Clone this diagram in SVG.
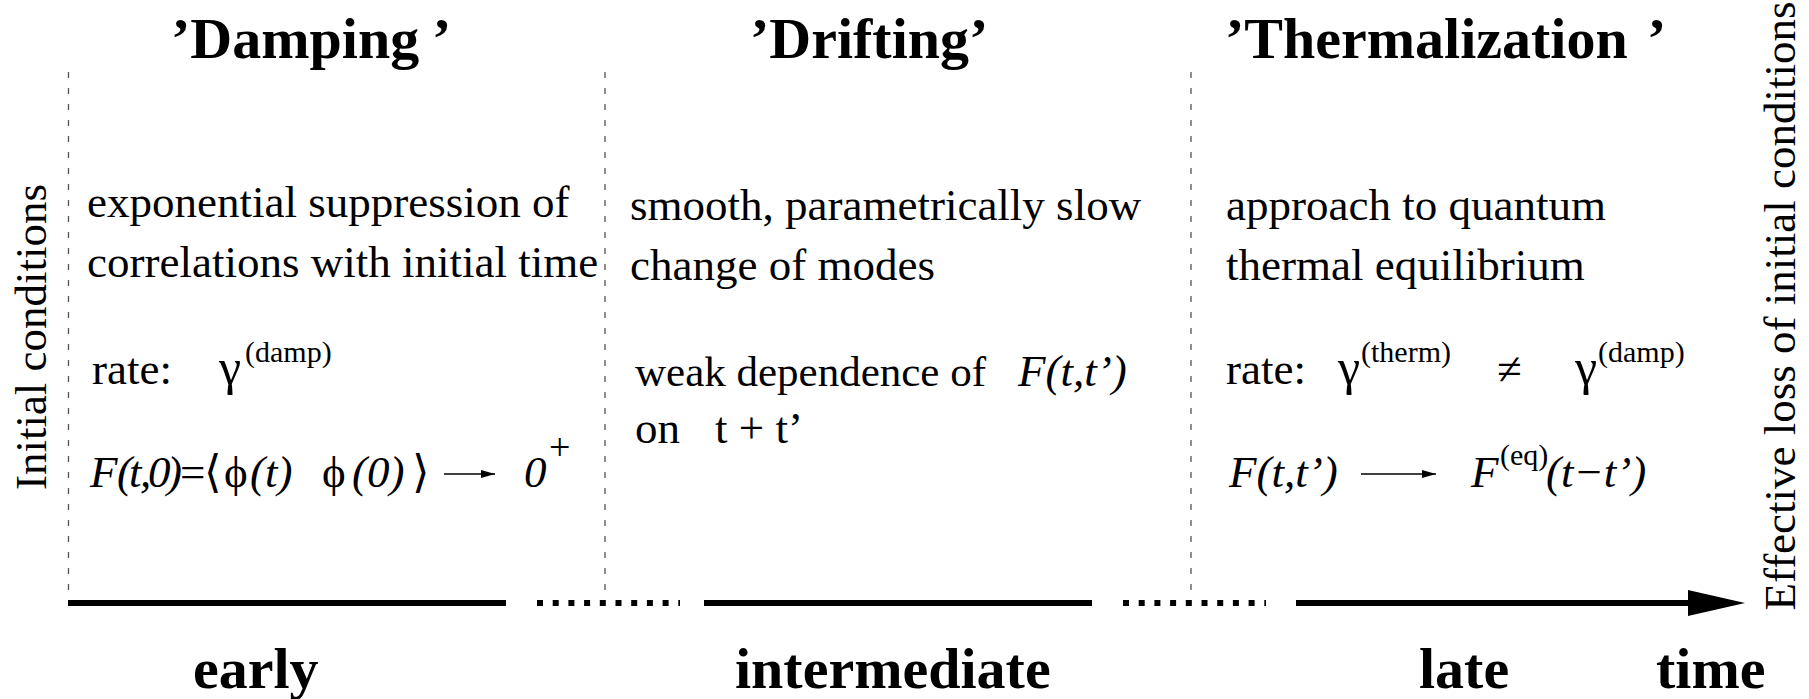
<svg xmlns="http://www.w3.org/2000/svg" width="1809" height="699" viewBox="0 0 1809 699">
<style>
.t{font-family:"Liberation Serif","DejaVu Serif",serif;font-size:45px;fill:#000}
.i{font-style:italic}
.b{font-weight:bold;font-size:58px}
.sup{font-size:30px}
.g{font-size:50px}
.dash{stroke:#555;stroke-width:1.3;stroke-dasharray:6 10;fill:none}
.axis{stroke:#000;stroke-width:6;fill:none}
.dot{stroke:#000;stroke-width:6;stroke-dasharray:6 9.7;fill:none}
.thin{stroke:#000;stroke-width:1.5;fill:none}
</style>
<defs>
<marker id="ah" viewBox="0 0 14 8" refX="14" refY="4" markerWidth="14" markerHeight="8" markerUnits="userSpaceOnUse" orient="auto">
<path d="M0,0 L14,4 L0,8 Z" fill="#000"/>
</marker>
</defs>
<rect width="1809" height="699" fill="#fff"/>

<g id="dividers">
<line class="dash" x1="68.5" y1="72" x2="68.5" y2="600"/>
<line class="dash" x1="605" y1="72" x2="605" y2="600"/>
<line class="dash" x1="1191" y1="72" x2="1191" y2="600"/>
</g>

<g id="connectors">
<line class="axis" x1="68" y1="603" x2="506" y2="603"/>
<line class="dot" x1="537" y1="603" x2="680" y2="603"/>
<line class="axis" x1="704" y1="603" x2="1092" y2="603"/>
<line class="dot" x1="1123" y1="603" x2="1266" y2="603"/>
<line class="axis" x1="1296" y1="603" x2="1692" y2="603"/>
<polygon points="1688,590 1745,603 1688,616" fill="#000"/>
</g>

<g id="side-labels">
<text class="t" transform="translate(46,337) rotate(-90)" text-anchor="middle">Initial conditions</text>
<text class="t" transform="translate(1795,306) rotate(-90)" text-anchor="middle">Effective loss of initial conditions</text>
</g>

<g id="damping">
<text class="t b" x="171" y="58">’Damping<tspan x="432">’</tspan></text>
<text class="t" x="87" y="217">exponential suppression of</text>
<text class="t" x="87" y="277">correlations with initial time</text>
<text class="t" x="92" y="384">rate:<tspan class="g" x="219">γ</tspan><tspan class="sup" x="245" y="362">(damp)</tspan></text>
<text class="t" y="487"><tspan class="i" x="90">F</tspan><tspan class="i" x="117">(</tspan><tspan class="i" x="129">t</tspan><tspan class="i" x="140">,</tspan><tspan class="i" x="148">0</tspan><tspan class="i" x="167">)</tspan><tspan x="180">=</tspan><tspan x="204">⟨</tspan><tspan x="224">ϕ</tspan><tspan class="i" x="250">(t)</tspan><tspan x="322">ϕ</tspan><tspan class="i" x="352">(0)</tspan><tspan x="412">⟩</tspan><tspan class="i" x="524">0</tspan><tspan x="549" y="460" font-size="38">+</tspan></text>
<line class="thin" x1="444" y1="474" x2="495" y2="474" marker-end="url(#ah)"/>
<text class="t b" x="193" y="688">early</text>
</g>

<g id="drifting">
<text class="t b" x="750" y="58">’Drifting’</text>
<text class="t" x="630" y="220">smooth, parametrically slow</text>
<text class="t" x="630" y="280">change of modes</text>
<text class="t" x="635" y="386"><tspan font-size="43">weak dependence of</tspan><tspan class="i" x="1018">F(t,t’)</tspan></text>
<text class="t" x="635" y="443">on<tspan x="715">t + t’</tspan></text>
<text class="t b" x="735" y="688">intermediate</text>
</g>

<g id="thermalization">
<text class="t b" x="1225" y="58">’Thermalization<tspan x="1647">’</tspan></text>
<text class="t" x="1226" y="220">approach to quantum</text>
<text class="t" x="1226" y="280">thermal equilibrium</text>
<text class="t" x="1226" y="384">rate:<tspan class="g" x="1338">γ</tspan><tspan class="sup" x="1361" y="362">(therm)</tspan><tspan x="1497" y="384">≠</tspan><tspan class="g" x="1575">γ</tspan><tspan class="sup" x="1598" y="362">(damp)</tspan></text>
<text class="t" y="487"><tspan class="i" x="1229">F(t,t’)</tspan><tspan class="i" x="1471">F</tspan><tspan class="sup" x="1500" y="465">(eq)</tspan><tspan class="i" x="1546" y="487">(t−t’)</tspan></text>
<line class="thin" x1="1361" y1="474" x2="1436" y2="474" marker-end="url(#ah)"/>
<text class="t b" x="1419" y="688">late</text>
<text class="t b" x="1656" y="688">time</text>
</g>
</svg>
